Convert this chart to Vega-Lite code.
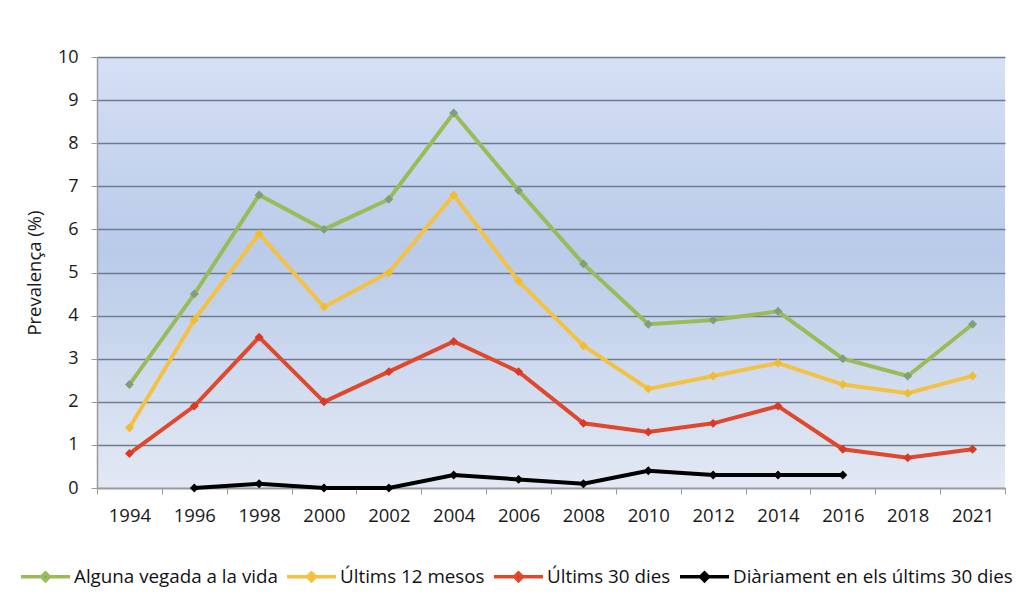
{
  "$schema": "https://vega.github.io/schema/vega-lite/v6.json",
  "width": 908,
  "height": 431,
  "autosize": "none",
  "padding": {"left": 97, "top": 57, "right": 24, "bottom": 116},
  "background": "white",
  "config": {
    "font": "Open Sans",
    "view": {
      "stroke": null,
      "fill": {"gradient": "linear", "x1": 0, "y1": 0, "x2": 0, "y2": 1,
        "stops": [{"offset": 0, "color": "#d6e0f5"}, {"offset": 0.45, "color": "#b9cbe9"}, {"offset": 1, "color": "#e3e9f4"}]}
    }
  },
  "data": {"values": [
    {"s": "Alguna vegada a la vida", "y": "1994", "v": 2.4},
    {"s": "Alguna vegada a la vida", "y": "1996", "v": 4.5},
    {"s": "Alguna vegada a la vida", "y": "1998", "v": 6.8},
    {"s": "Alguna vegada a la vida", "y": "2000", "v": 6.0},
    {"s": "Alguna vegada a la vida", "y": "2002", "v": 6.7},
    {"s": "Alguna vegada a la vida", "y": "2004", "v": 8.7},
    {"s": "Alguna vegada a la vida", "y": "2006", "v": 6.9},
    {"s": "Alguna vegada a la vida", "y": "2008", "v": 5.2},
    {"s": "Alguna vegada a la vida", "y": "2010", "v": 3.8},
    {"s": "Alguna vegada a la vida", "y": "2012", "v": 3.9},
    {"s": "Alguna vegada a la vida", "y": "2014", "v": 4.1},
    {"s": "Alguna vegada a la vida", "y": "2016", "v": 3.0},
    {"s": "Alguna vegada a la vida", "y": "2018", "v": 2.6},
    {"s": "Alguna vegada a la vida", "y": "2021", "v": 3.8},
    {"s": "Últims 12 mesos", "y": "1994", "v": 1.4},
    {"s": "Últims 12 mesos", "y": "1996", "v": 3.9},
    {"s": "Últims 12 mesos", "y": "1998", "v": 5.9},
    {"s": "Últims 12 mesos", "y": "2000", "v": 4.2},
    {"s": "Últims 12 mesos", "y": "2002", "v": 5.0},
    {"s": "Últims 12 mesos", "y": "2004", "v": 6.8},
    {"s": "Últims 12 mesos", "y": "2006", "v": 4.8},
    {"s": "Últims 12 mesos", "y": "2008", "v": 3.3},
    {"s": "Últims 12 mesos", "y": "2010", "v": 2.3},
    {"s": "Últims 12 mesos", "y": "2012", "v": 2.6},
    {"s": "Últims 12 mesos", "y": "2014", "v": 2.9},
    {"s": "Últims 12 mesos", "y": "2016", "v": 2.4},
    {"s": "Últims 12 mesos", "y": "2018", "v": 2.2},
    {"s": "Últims 12 mesos", "y": "2021", "v": 2.6},
    {"s": "Últims 30 dies", "y": "1994", "v": 0.8},
    {"s": "Últims 30 dies", "y": "1996", "v": 1.9},
    {"s": "Últims 30 dies", "y": "1998", "v": 3.5},
    {"s": "Últims 30 dies", "y": "2000", "v": 2.0},
    {"s": "Últims 30 dies", "y": "2002", "v": 2.7},
    {"s": "Últims 30 dies", "y": "2004", "v": 3.4},
    {"s": "Últims 30 dies", "y": "2006", "v": 2.7},
    {"s": "Últims 30 dies", "y": "2008", "v": 1.5},
    {"s": "Últims 30 dies", "y": "2010", "v": 1.3},
    {"s": "Últims 30 dies", "y": "2012", "v": 1.5},
    {"s": "Últims 30 dies", "y": "2014", "v": 1.9},
    {"s": "Últims 30 dies", "y": "2016", "v": 0.9},
    {"s": "Últims 30 dies", "y": "2018", "v": 0.7},
    {"s": "Últims 30 dies", "y": "2021", "v": 0.9},
    {"s": "Diàriament en els últims 30 dies", "y": "1996", "v": 0.0},
    {"s": "Diàriament en els últims 30 dies", "y": "1998", "v": 0.1},
    {"s": "Diàriament en els últims 30 dies", "y": "2000", "v": 0.0},
    {"s": "Diàriament en els últims 30 dies", "y": "2002", "v": 0.0},
    {"s": "Diàriament en els últims 30 dies", "y": "2004", "v": 0.3},
    {"s": "Diàriament en els últims 30 dies", "y": "2006", "v": 0.2},
    {"s": "Diàriament en els últims 30 dies", "y": "2008", "v": 0.1},
    {"s": "Diàriament en els últims 30 dies", "y": "2010", "v": 0.4},
    {"s": "Diàriament en els últims 30 dies", "y": "2012", "v": 0.3},
    {"s": "Diàriament en els últims 30 dies", "y": "2014", "v": 0.3},
    {"s": "Diàriament en els últims 30 dies", "y": "2016", "v": 0.3}
  ]},
  "encoding": {
    "x": {
      "field": "y", "type": "ordinal", "title": null,
      "scale": {"type": "band", "paddingInner": 0, "paddingOuter": 0,
        "domain": ["1994","1996","1998","2000","2002","2004","2006","2008","2010","2012","2014","2016","2018","2021"]},
      "axis": {"labelAngle": 0, "tickBand": "extent", "tickSize": 6, "tickColor": "#9a9a9a", "domainColor": "#9a9a9a", "domainWidth": 1.5,
        "labelFontSize": 18.5, "labelColor": "#1a1a1a", "labelPadding": 12, "grid": false}
    },
    "y": {
      "field": "v", "type": "quantitative", "title": "Prevalença (%)",
      "scale": {"domain": [0, 10], "nice": false},
      "axis": {"values": [0,1,2,3,4,5,6,7,8,9,10], "tickSize": 6, "tickColor": "#9a9a9a", "domainColor": "#9a9a9a", "domainWidth": 1.5,
        "gridColor": "#6f7b8f", "gridWidth": 1.5, "gridOpacity": 1,
        "labelFontSize": 18, "labelColor": "#1a1a1a", "labelPadding": 13,
        "titleFontSize": 18.5, "titleFontWeight": "normal", "titleColor": "#1a1a1a", "titlePadding": 13}
    }
  },
  "layer": [
    {
      "mark": {"type": "line", "strokeWidth": 4},
      "encoding": {
        "color": {
          "field": "s", "type": "nominal",
          "scale": {
            "domain": ["Alguna vegada a la vida", "Últims 12 mesos", "Últims 30 dies", "Diàriament en els últims 30 dies"],
            "range": ["#9bbb59", "#f3c245", "#e0482c", "#000000"]
          },
          "legend": {
            "title": null, "orient": "none", "legendX": -78, "legendY": 493, "direction": "horizontal", "columns": 4,
            "columnPadding": 2, "labelOffset": 2, "labelFontSize": 18.8, "labelColor": "#111", "labelLimit": 400,
            "symbolType": "M-1,0L-0.18,0M0.18,0L1,0M0,-0.16L0.16,0L0,0.16L-0.16,0Z",
            "symbolSize": 2400, "symbolStrokeWidth": 3.5,
            "encode": {"symbols": {"update": {"fill": {"signal": "datum.value === 'Alguna vegada a la vida' ? '#7f9f7a' : datum.value === 'Últims 12 mesos' ? '#f0bc30' : datum.value === 'Últims 30 dies' ? '#d83a26' : '#000000'"}, "fillOpacity": {"value": 1}}}}
          }
        }
      }
    },
    {
      "mark": {"type": "point", "shape": "diamond", "filled": true, "size": 80, "opacity": 1},
      "encoding": {
        "color": {
          "field": "s", "type": "nominal",
          "scale": {
            "domain": ["Alguna vegada a la vida", "Últims 12 mesos", "Últims 30 dies", "Diàriament en els últims 30 dies"],
            "range": ["#7f9f7a", "#f0bc30", "#d83a26", "#000000"]
          },
          "legend": null
        }
      }
    }
  ],
  "resolve": {"scale": {"color": "independent"}}
}
